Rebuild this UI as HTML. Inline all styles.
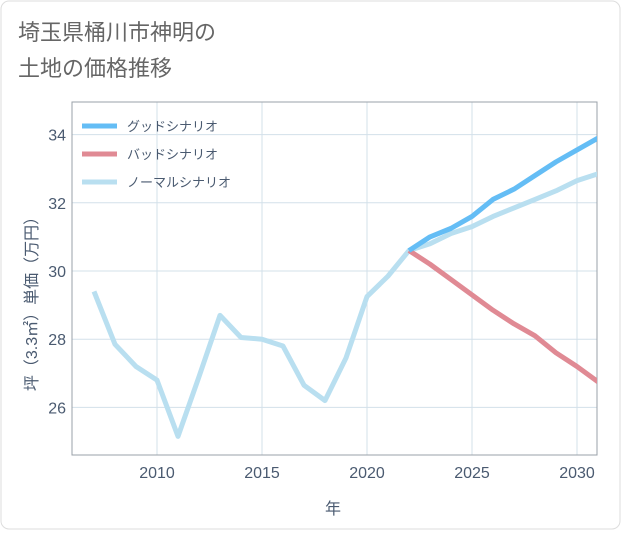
<!DOCTYPE html>
<html><head><meta charset="utf-8"><style>
body{margin:0;background:#fff;font-family:"Liberation Sans","Noto Sans CJK JP",sans-serif;}
#wrap{position:relative;width:621px;height:530px;}
</style></head><body>
<div id="wrap">
<svg id="chart" width="621" height="530" xmlns="http://www.w3.org/2000/svg">
<rect x="1" y="1" width="619" height="528" rx="8" fill="#fff" stroke="#ddd"/>
<text x="18" y="40" font-size="22" fill="#666">埼玉県桶川市神明の</text>
<text x="18" y="76" font-size="22" fill="#666">土地の価格推移</text>
<g id="grid"></g>
<g id="series"></g>
<g id="legend"></g>
<text x="333" y="514" font-size="16" fill="#4a5a70" text-anchor="middle">年</text>
<text transform="translate(37,300) rotate(-90)" font-size="16" fill="#4a5a70" text-anchor="middle">坪（3.3㎡）単価（万円）</text>
</svg>
</div>
<script>
const years=[2007,2008,2009,2010,2011,2012,2013,2014,2015,2016,2017,2018,2019,2020,2021,2022,2023,2024,2025,2026,2027,2028,2029,2030,2031];
const normalVals=[29.4,27.85,27.2,26.8,25.15,26.9,28.7,28.05,28.0,27.8,26.65,26.2,27.45,29.25,29.85,30.6,30.8,31.1,31.3,31.6,31.85,32.1,32.35,32.65,32.85];
const futureYears=[2022,2023,2024,2025,2026,2027,2028,2029,2030,2031];
const goodVals=[30.6,31.0,31.25,31.6,32.1,32.4,32.8,33.2,33.55,33.9];
const badVals=[30.6,30.2,29.75,29.3,28.85,28.45,28.1,27.6,27.2,26.75];
const xTicks=[2010,2015,2020,2025,2030];
const yTicks=[26,28,30,32,34];
const legendLabels=["グッドシナリオ","バッドシナリオ","ノーマルシナリオ"];
const legendColors=["#64bdf5","#e08a94","#b9dff0"];

const L=72,R=597,T=102,B=455;
const x=v=>157+(v-2010)*21;
const y=v=>271-(v-30)*34.1;
const NS="http://www.w3.org/2000/svg";
function mk(tag,attrs,parent){const e=document.createElementNS(NS,tag);for(const k in attrs)e.setAttribute(k,attrs[k]);parent.appendChild(e);return e;}
const grid=document.getElementById('grid');
xTicks.forEach(t=>{
 const l=mk('line',{x1:x(t),x2:x(t),y1:T,y2:B,stroke:'#d3e0ea'},grid);
 
 
 const tx=mk('text',{x:x(t),y:478,'font-size':16,fill:'#4a5a70','text-anchor':'middle'},grid);
 tx.textContent=t;
 
 
});
yTicks.forEach(t=>{
 const l=mk('line',{x1:L,x2:R,y1:y(t),y2:y(t),stroke:'#d3e0ea'},grid);
 
 
 const tx=mk('text',{x:66,y:y(t)+6,'font-size':16,fill:'#4a5a70','text-anchor':'end'},grid);
 tx.textContent=t;
 
 
});
const bg=mk('rect',{x:L,y:T,width:R-L,height:B-T,fill:'none',stroke:'#9aa0a8','stroke-width':1},grid);


const ser=document.getElementById('series');
const clip=mk('clipPath',{id:'cp'},ser);mk('rect',{x:L,y:T,width:R-L,height:B-T},clip);
function line(xs,vs,color,name){
 const p=mk('polyline',{points:xs.map((v,i)=>x(v)+','+y(vs[i])).join(' '),fill:'none',stroke:color,'stroke-width':5,'stroke-linejoin':'round','clip-path':'url(#cp)'},ser);
 
 
}
line(years,normalVals,legendColors[2],'normal-scenario-line');
line(futureYears,badVals,legendColors[1],'bad-scenario-line');
line(futureYears,goodVals,legendColors[0],'good-scenario-line');
const lg=document.getElementById('legend');
legendLabels.forEach((s,i)=>{
 const yy=126+i*28;
 const l=mk('line',{x1:82,x2:117,y1:yy,y2:yy,stroke:legendColors[i],'stroke-width':5},lg);
 
 
 const t=mk('text',{x:127,y:yy+5,'font-size':13,fill:'#4a5a70'},lg);
 t.textContent=s;
 
 
});
</script>
</body></html>
